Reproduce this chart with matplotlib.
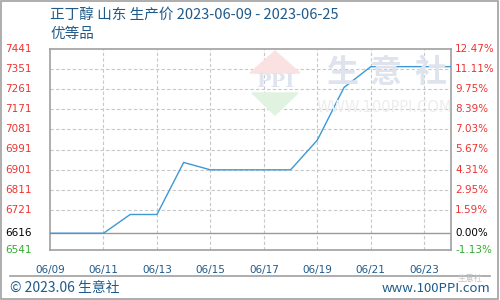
import matplotlib
matplotlib.use("Agg")
import matplotlib.pyplot as plt
from matplotlib.patches import Polygon, Rectangle
from matplotlib.lines import Line2D

plt.rcParams['font.family'] = ['DejaVu Sans', 'Noto Sans CJK SC']

# ---- data ----
days = [9, 10, 11, 12, 13, 14, 15, 16, 17, 18, 19, 20, 21, 22, 23, 24]
prices = [6616, 6616, 6616, 6700, 6700, 6933, 6900, 6900, 6900, 6900,
          7033, 7269, 7362, 7362, 7362, 7362]
base = 6616
y_ticks = [7441, 7351, 7261, 7171, 7081, 6991, 6901, 6811, 6721, 6616, 6541]
x_tick_days = [9, 11, 13, 15, 17, 19, 21, 23]
x_tick_labels = ["06/%02d" % d for d in x_tick_days]
title = "正丁醇 山东 生产价 2023-06-09 - 2023-06-25"
subtitle = "优等品"
footer_left = "© 2023.06 生意社"
footer_right = "www.100PPI.com"

W, H = 500, 300
fig = plt.figure(figsize=(5, 3), dpi=100)
fig.patch.set_facecolor("white")

def fx(px):
    return px / W

def fy(py):
    return 1 - py / H

# outer border
fig.add_artist(Rectangle((fx(1), fy(299)), fx(497), 298 / H, transform=fig.transFigure,
                         fill=False, edgecolor="#a0a0a0", lw=1.2))

ax = fig.add_axes([fx(50), fy(250), fx(401), 201 / H])
ax.set_xlim(9, 24)
ax.set_ylim(6541, 7441)

# watermark
fig.add_artist(Polygon([[fx(250), fy(73)], [fx(300), fy(73)], [fx(275), fy(51)]],
                       closed=True, transform=fig.transFigure, color="#fbe2e2", zorder=0.5))
fig.add_artist(Polygon([[fx(252), fy(93)], [fx(298), fy(93)], [fx(275), fy(115)]],
                       closed=True, transform=fig.transFigure, color="#e0f2e0", zorder=0.5))
fig.text(fx(275), fy(82), "PPI", ha="center", va="center", fontsize=14, color="#dfe4ee",
         family="DejaVu Serif", fontweight="bold", zorder=0.6)
for cx, ch in zip([342, 386, 431], "生意社"):
    fig.text(fx(cx), fy(73), ch, ha="center", va="center", fontsize=23, color="#dfe3ed",
             family="Noto Sans CJK SC", fontweight="bold", zorder=0.6)
fig.text(fx(384), fy(107), "WWW.100PPI.COM", ha="center", va="center", fontsize=10.5,
         color="#ededed", zorder=0.6)

# grid
for v in y_ticks[1:9]:
    ax.axhline(v, color="#c8c8c8", lw=0.8, ls=(0, (3, 2)), zorder=1)
for d in x_tick_days[1:]:
    ax.axvline(d, color="#c8c8c8", lw=0.8, ls=(0, (3, 2)), zorder=1)
ax.axhline(base, color="#999999", lw=1.0, zorder=1.5)

ax.plot(days, prices, color="#3d98d6", lw=1.0, zorder=3)

for s in ax.spines.values():
    s.set_color("#a0a0a0")
    s.set_linewidth(1.2)
ax.patch.set_alpha(0)

ax.set_yticks([])
ax.set_xticks(x_tick_days)
ax.set_xticklabels(x_tick_labels, fontsize=7.5, color="#1f5a8a")
ax.tick_params(axis="x", length=0, pad=11)

tr = ax.get_yaxis_transform()
for v in y_ticks:
    if v > base:
        c = "#ee3333"
    elif v == base:
        c = "black"
    else:
        c = "#33aa33"
    pct = (v - base) / base * 100
    ax.text(-45 / 401, v, str(v), transform=tr, ha="left", va="center",
            fontsize=7.5, color=c)
    ax.text(405 / 401, v, "%.2f%%" % pct, transform=tr, ha="left", va="center",
            fontsize=7.5, color=c)

fig.text(fx(50), fy(15), title, ha="left", va="center", fontsize=10.5, color="#1f5a8a",
         family=["Noto Sans CJK SC", "DejaVu Sans"])
fig.text(fx(50), fy(34), subtitle, ha="left", va="center", fontsize=10.5, color="#1f5a8a",
         family=["Noto Sans CJK SC", "DejaVu Sans"])

fig.add_artist(Line2D([fx(10), fx(490)], [fy(276), fy(276)], transform=fig.transFigure,
                      color="#a0a0a0", lw=1.2))
fig.text(fx(10), fy(288), footer_left, ha="left", va="center", fontsize=10, color="#1f5a8a",
         family=["Noto Sans CJK SC", "DejaVu Sans"])
fig.text(fx(490), fy(289), footer_right, ha="right", va="center", fontsize=9.5, color="#1f5a8a",
         family=["Noto Sans CJK SC", "DejaVu Sans"])
fig.text(fx(470), fy(279), "生意社", ha="center", va="center", fontsize=6, color="#c4c4c4",
         family=["Noto Sans CJK SC"])

fig.savefig("out.png", dpi=100)
